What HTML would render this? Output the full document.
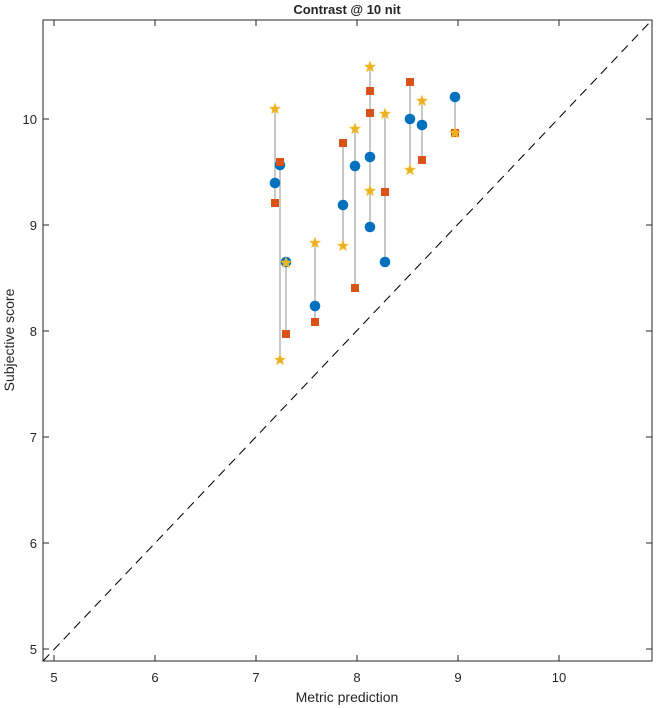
<!DOCTYPE html>
<html><head><style>body{margin:0;background:#fff}svg{display:block}text{font-family:"Liberation Sans",sans-serif;fill:#262626}</style></head><body>
<svg width="656" height="708" viewBox="0 0 656 708">
<defs>
<path id="st" d="M0,-6 L1.5,-2 L5.7,-1.9 L2.4,0.7 L3.5,4.9 L0,2.4 L-3.5,4.9 L-2.4,0.7 L-5.7,-1.9 L-1.5,-2Z" fill="#EDB120" stroke="#f5c94a" stroke-width="0.5"/>
<rect id="sq" x="-4" y="-4" width="8" height="8" fill="#D95319"/>
<circle id="ci" r="5.3" fill="#0072BD"/>
</defs>
<rect x="43" y="20" width="609" height="641" fill="#fff" stroke="#262626" stroke-width="1"/>
<line x1="43" y1="661" x2="652" y2="20" stroke="#000" stroke-dasharray="9,6" stroke-width="1"/>
<g stroke="#262626">
<line x1="54" y1="661" x2="54" y2="655"/><line x1="155" y1="661" x2="155" y2="655"/><line x1="256" y1="661" x2="256" y2="655"/><line x1="357" y1="661" x2="357" y2="655"/><line x1="458" y1="661" x2="458" y2="655"/><line x1="559" y1="661" x2="559" y2="655"/>
<line x1="54" y1="20" x2="54" y2="26"/><line x1="155" y1="20" x2="155" y2="26"/><line x1="256" y1="20" x2="256" y2="26"/><line x1="357" y1="20" x2="357" y2="26"/><line x1="458" y1="20" x2="458" y2="26"/><line x1="559" y1="20" x2="559" y2="26"/>
<line x1="43" y1="649" x2="49" y2="649"/><line x1="43" y1="543" x2="49" y2="543"/><line x1="43" y1="437" x2="49" y2="437"/><line x1="43" y1="331" x2="49" y2="331"/><line x1="43" y1="225" x2="49" y2="225"/><line x1="43" y1="119" x2="49" y2="119"/>
<line x1="652" y1="649" x2="646" y2="649"/><line x1="652" y1="543" x2="646" y2="543"/><line x1="652" y1="437" x2="646" y2="437"/><line x1="652" y1="331" x2="646" y2="331"/><line x1="652" y1="225" x2="646" y2="225"/><line x1="652" y1="119" x2="646" y2="119"/>
</g>
<g font-size="13" text-anchor="middle">
<text x="54" y="682">5</text><text x="155" y="682">6</text><text x="256" y="682">7</text><text x="357" y="682">8</text><text x="458" y="682">9</text><text x="559" y="682">10</text>
</g>
<g font-size="13" text-anchor="end">
<text x="37" y="654">5</text><text x="37" y="548">6</text><text x="37" y="442">7</text><text x="37" y="336">8</text><text x="37" y="230">9</text><text x="37" y="124">10</text>
</g>
<text x="347" y="702" font-size="14" text-anchor="middle">Metric prediction</text>
<text transform="translate(14,340) rotate(-90)" font-size="14" text-anchor="middle">Subjective score</text>
<text x="347" y="14" font-size="13" font-weight="bold" text-anchor="middle" fill="#000">Contrast @ 10 nit</text>
<g stroke="#b5b5b5" stroke-width="1.5">
<line x1="275" y1="109" x2="275" y2="203"/><line x1="280" y1="162" x2="280" y2="360"/><line x1="286" y1="262" x2="286" y2="334"/><line x1="315" y1="243" x2="315" y2="322"/><line x1="343" y1="143" x2="343" y2="246"/><line x1="355" y1="129" x2="355" y2="288"/><line x1="370" y1="67" x2="370" y2="227"/><line x1="385" y1="114" x2="385" y2="262"/><line x1="410" y1="82" x2="410" y2="170"/><line x1="422" y1="101" x2="422" y2="160"/><line x1="455" y1="97" x2="455" y2="133"/>
</g>
<use href="#sq" x="275" y="203"/><use href="#ci" x="275" y="183"/><use href="#st" x="275" y="109"/>
<use href="#st" x="280" y="360"/><use href="#ci" x="280" y="165"/><use href="#sq" x="280" y="162"/>
<use href="#sq" x="286" y="334"/><use href="#ci" x="286" y="262"/><use href="#st" x="286" y="263"/>
<use href="#sq" x="315" y="322"/><use href="#ci" x="315" y="306"/><use href="#st" x="315" y="243"/>
<use href="#sq" x="343" y="143"/><use href="#ci" x="343" y="205"/><use href="#st" x="343" y="246"/>
<use href="#sq" x="355" y="288"/><use href="#ci" x="355" y="166"/><use href="#st" x="355" y="129"/>
<use href="#st" x="370" y="67"/><use href="#sq" x="370" y="91"/><use href="#sq" x="370" y="113"/><use href="#ci" x="370" y="157"/><use href="#st" x="370" y="191"/><use href="#ci" x="370" y="227"/>
<use href="#st" x="385" y="114"/><use href="#sq" x="385" y="192"/><use href="#ci" x="385" y="262"/>
<use href="#sq" x="410" y="82"/><use href="#ci" x="410" y="119"/><use href="#st" x="410" y="170"/>
<use href="#st" x="422" y="101"/><use href="#ci" x="422" y="125"/><use href="#sq" x="422" y="160"/>
<use href="#ci" x="455" y="97"/><use href="#sq" x="455" y="133"/><use href="#st" x="455" y="133"/>
</svg>
</body></html>
